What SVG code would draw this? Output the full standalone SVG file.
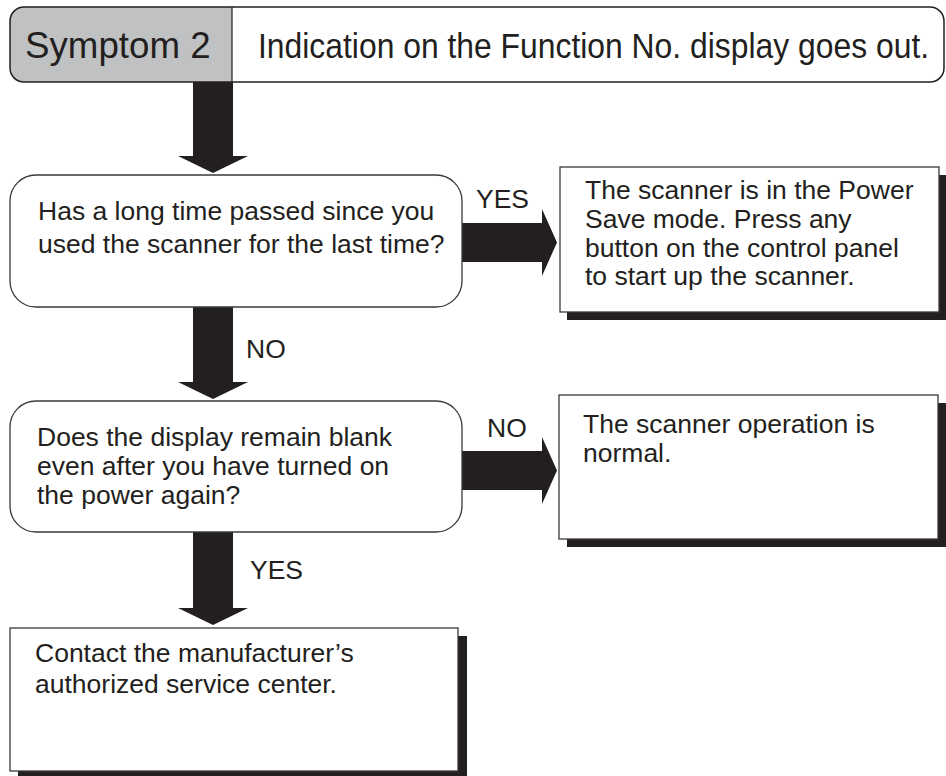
<svg xmlns="http://www.w3.org/2000/svg" width="946" height="776" viewBox="0 0 946 776">
<style>
.t{font-family:"Liberation Sans",Arial,sans-serif;font-size:26.5px;fill:#231f20}
.h{font-family:"Liberation Sans",Arial,sans-serif;font-size:36px;fill:#231f20}
.box{fill:#fff;stroke:#3a3a3a;stroke-width:1.3}
.sh{fill:#231f20}
.arr{fill:#231f20}
</style>
<rect width="946" height="776" fill="#fff"/>
<g id="header">
<rect x="10" y="7" width="934" height="75" rx="14" fill="#fff"/>
<path d="M24,7 H232 V82 H24 A14,14 0 0 1 10,68 V21 A14,14 0 0 1 24,7 Z" fill="#c0c1c3"/>
<rect x="10" y="7" width="934" height="75" rx="14" fill="none" stroke="#231f20" stroke-width="1.5"/>
<line x1="232" y1="7" x2="232" y2="82" stroke="#231f20" stroke-width="1.2"/>
<text class="h" transform="translate(25,58) scale(1.02,1)">Symptom 2</text>
<text class="h" transform="translate(258,58) scale(0.885,1)">Indication on the Function No. display goes out.</text>
</g>
<g id="connectors">
<path class="arr" d="M193,82 H233 V156 H248 L213,173 L178,156 H193 Z"/>
<path class="arr" d="M462,223 H542 V209 L557,242.5 L542,276 V262 H462 Z"/>
<text class="t" x="476" y="208">YES</text>
<path class="arr" d="M193,307 H233 V382 H248 L213,399 L178,382 H193 Z"/>
<text class="t" x="246" y="358">NO</text>
<path class="arr" d="M462,451 H542 V437 L557,470.5 L542,504 V490 H462 Z"/>
<text class="t" x="487" y="437">NO</text>
<path class="arr" d="M193,532 H233 V608 H248 L213,625 L178,608 H193 Z"/>
<text class="t" x="250" y="579">YES</text>
</g>
<g id="decision1">
<rect class="box" x="10" y="175" width="452" height="132" rx="26"/>
<text class="t" x="38" y="220">Has a long time passed since you</text>
<text class="t" x="38" y="253">used the scanner for the last time?</text>
</g>
<g id="result1">
<rect class="sh" x="567" y="175" width="379" height="145"/>
<rect class="box" x="560" y="167" width="379" height="145"/>
<text class="t" x="585" y="199">The scanner is in the Power</text>
<text class="t" x="585" y="228">Save mode. Press any</text>
<text class="t" x="585" y="256.5">button on the control panel</text>
<text class="t" x="585" y="285">to start up the scanner.</text>
</g>
<g id="decision2">
<rect class="box" x="10" y="401" width="452" height="131" rx="26"/>
<text class="t" x="37" y="446">Does the display remain blank</text>
<text class="t" x="37" y="475">even after you have turned on</text>
<text class="t" x="37" y="504">the power again?</text>
</g>
<g id="result2">
<rect class="sh" x="567" y="403" width="379" height="144"/>
<rect class="box" x="559" y="395" width="379" height="144"/>
<text class="t" x="583" y="433">The scanner operation is</text>
<text class="t" x="583" y="462">normal.</text>
</g>
<g id="result3">
<rect class="sh" x="18" y="636" width="449" height="143"/>
<rect class="box" x="10" y="628" width="448" height="143"/>
<text class="t" x="35" y="662">Contact the manufacturer’s</text>
<text class="t" x="35" y="693">authorized service center.</text>
</g>
</svg>
